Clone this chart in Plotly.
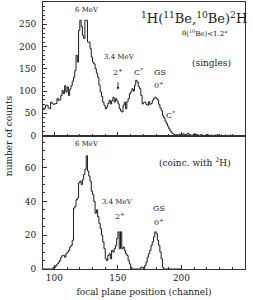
import plotly.graph_objects as go
from plotly.subplots import make_subplots

# ---- data: singles spectrum (top) ----
top_channels = list(range(91, 241))
top_counts = [
    58, 62, 68, 68, 62, 60, 75, 72, 70,                 # 91-99
    71, 72, 83, 79, 80, 90, 101, 94, 112, 98,           # 100-109
    109, 90, 104, 112, 122, 131, 146, 180, 165, 236,    # 110-119
    259, 245, 225, 218, 259, 259, 210, 210, 195, 176,   # 120-129
    165, 161, 150, 140, 131, 113, 98, 88, 75, 68,       # 130-139
    60, 64, 72, 79, 71, 78, 86, 75, 83, 78,             # 140-149
    71, 60, 55, 53, 68, 75, 60, 76, 83, 94,             # 150-159
    98, 105, 100, 113, 124, 120, 110, 105, 90, 71,      # 160-169
    74, 75, 70, 68, 76, 70, 72, 79, 83, 86,             # 170-179
    84, 80, 70, 62, 56, 45, 40, 32, 27, 21,             # 180-189
    15, 10, 6, 4, 2, 1, 2, 0, 3, 1,                     # 190-199
    2, 4, 2, 1, 3, 5, 2, 1, 0, 2,                       # 200-209
    4, 1, 2, 1, 0, 2, 1, 0, 1, 0,                       # 210-219
    2, 1, 0, 1, 0, 0, 1, 0, 2, 0,                       # 220-229
    0, 1, 0, 0, 1, 0, 0, 0, 1, 0, 0,                    # 230-240
]

# ---- data: coincidence spectrum (bottom) ----
bot_channels = list(range(91, 201))
bot_counts = [
    0, 0, 0, 0, 0, 0, 0, 0, 1,                          # 91-99
    1, 2, 3, 4, 5, 7, 8, 8, 7, 9,                       # 100-109
    10, 11, 13, 14, 17, 36, 37, 41, 42, 51,             # 110-119
    52, 50, 53, 56, 59, 67, 58, 55, 52, 46,             # 120-129
    44, 40, 33, 35, 31, 27, 24, 20, 16, 12,             # 130-139
    6, 5, 8, 9, 6, 11, 10, 12, 14, 18,                  # 140-149
    22, 12, 22, 12, 13, 11, 9, 8, 5, 3,                 # 150-159
    1, 0, 0, 0, 0, 0, 0, 0, 1, 1,                       # 160-169
    0, 2, 4, 7, 9, 11, 14, 16, 19, 22,                  # 170-179
    21, 17, 14, 10, 6, 1, 0, 0, 0, 0,                   # 180-189
    0, 0, 0, 0, 0, 0, 0, 0, 0, 0, 0,                    # 190-200
]

x_ticks = [100, 150, 200, 250]

SERIF = "DejaVu Serif"
INK = "#1a1a1a"

fig = make_subplots(rows=2, cols=1, shared_xaxes=True, vertical_spacing=0)

fig.add_trace(go.Scatter(x=top_channels, y=top_counts, mode="lines",
                         line=dict(color=INK, width=1, shape="hv"),
                         showlegend=False), row=1, col=1)
fig.add_trace(go.Scatter(x=bot_channels, y=bot_counts, mode="lines",
                         line=dict(color=INK, width=1, shape="hv"),
                         showlegend=False), row=2, col=1)

axis_common = dict(showline=True, linecolor="#333", linewidth=1, mirror=True,
                   ticks="inside", ticklen=4, tickcolor="#333", showgrid=False,
                   zeroline=False, tickfont=dict(family=SERIF, size=9, color=INK))

fig.update_xaxes(range=[91, 250], tickvals=x_ticks,
                 minor=dict(ticks="inside", ticklen=2, dtick=10, tick0=0, tickcolor="#333"),
                 **axis_common)
fig.update_xaxes(showticklabels=False, row=1, col=1)
fig.update_xaxes(title=dict(text="focal plane position (channel)",
                            font=dict(family=SERIF, size=9, color=INK), standoff=6),
                 row=2, col=1)

fig.update_yaxes(range=[0, 300], tickvals=[0, 50, 100, 150, 200, 250],
                 minor=dict(ticks="inside", ticklen=2, dtick=10, tick0=0, tickcolor="#333"),
                 ticklabelstandoff=4, row=1, col=1, **axis_common)
fig.update_yaxes(range=[0, 79], tickvals=[0, 20, 40, 60],
                 minor=dict(ticks="inside", ticklen=2, dtick=5, tick0=0, tickcolor="#333"),
                 ticklabelstandoff=4, row=2, col=1, **axis_common)

def ann(text, x, y, xref, yref, size=7):
    fig.add_annotation(text=text, x=x, y=y, xref=xref, yref=yref, showarrow=False,
                       font=dict(family=SERIF, size=size, color=INK),
                       xanchor="center", yanchor="middle")

# top panel labels
ann("6 MeV", 126, 281, "x", "y")
ann("3.4 MeV", 151.5, 176, "x", "y")
ann("2<sup>+</sup>", 150, 142, "x", "y", 8)
ann("C<sup>*</sup>", 166.5, 142, "x", "y", 8)
ann("GS", 183, 142, "x", "y", 8)
ann("0<sup>+</sup>", 182, 113, "x", "y", 8)
ann("C<sup>*</sup>", 191, 45, "x", "y", 8)
ann("<sup>1</sup>H(<sup>11</sup>Be,<sup>10</sup>Be)<sup>2</sup>H", 210, 263, "x", "y", 13)
ann("θ(<sup>10</sup>Be)<1.2°", 218.5, 230, "x", "y", 7)
ann("(singles)", 224, 162, "x", "y", 9)
fig.add_annotation(x=150, y=103, xref="x", yref="y", text="", showarrow=True,
                   ax=0, ay=-9, arrowhead=2, arrowsize=0.6, arrowwidth=0.9,
                   arrowcolor=INK)

# bottom panel labels
ann("6 MeV", 125.5, 74, "x2", "y2")
ann("3.4 MeV", 150, 39.7, "x2", "y2")
ann("2<sup>+</sup>", 151.5, 31.4, "x2", "y2", 8)
ann("GS", 182.5, 35.6, "x2", "y2", 8)
ann("0<sup>+</sup>", 182, 27.9, "x2", "y2", 8)
ann("(coinc. with <sup>2</sup>H)", 211, 63.3, "x2", "y2", 9)

# shared y title
fig.add_annotation(text="number of counts", x=-0.17, y=0.5, xref="paper", yref="paper",
                   showarrow=False, textangle=-90,
                   font=dict(family=SERIF, size=9, color=INK),
                   xanchor="center", yanchor="middle")

fig.update_layout(width=253, height=300,
                  margin=dict(l=43, r=8, t=2, b=31),
                  paper_bgcolor="white", plot_bgcolor="white")

fig.write_html("out.html", config={"displayModeBar": False},
               post_script="document.body.style.margin='0';document.body.style.overflow='hidden';")
